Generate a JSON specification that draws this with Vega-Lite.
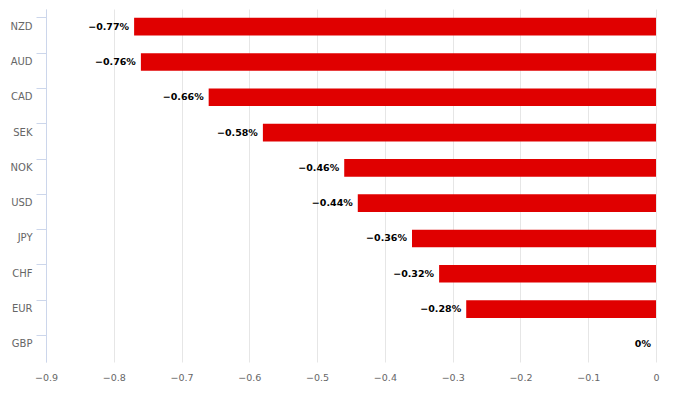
{
  "$schema": "https://vega.github.io/schema/vega-lite/v6.json",
  "width": 610,
  "height": 353,
  "autosize": {"type": "none"},
  "padding": {"left": 46, "top": 9, "right": 21, "bottom": 40},
  "background": "white",
  "config": {
    "view": {"stroke": null},
    "font": "DejaVu Sans"
  },
  "data": {
    "values": [
      {"currency": "NZD", "change": -0.77, "label": "−0.77%"},
      {"currency": "AUD", "change": -0.76, "label": "−0.76%"},
      {"currency": "CAD", "change": -0.66, "label": "−0.66%"},
      {"currency": "SEK", "change": -0.58, "label": "−0.58%"},
      {"currency": "NOK", "change": -0.46, "label": "−0.46%"},
      {"currency": "USD", "change": -0.44, "label": "−0.44%"},
      {"currency": "JPY", "change": -0.36, "label": "−0.36%"},
      {"currency": "CHF", "change": -0.32, "label": "−0.32%"},
      {"currency": "EUR", "change": -0.28, "label": "−0.28%"},
      {"currency": "GBP", "change": 0, "label": "0%"}
    ]
  },
  "encoding": {
    "y": {
      "field": "currency",
      "type": "nominal",
      "sort": null,
      "scale": {"paddingInner": 0.5, "paddingOuter": 0.25},
      "axis": {
        "title": null,
        "domainColor": "#ccd6eb",
        "tickColor": "#ccd6eb",
        "tickSize": 10,
        "bandPosition": 0,
        "labelColor": "#666666",
        "labelFontSize": 10,
        "labelPadding": 4,
        "labelFont": "DejaVu Sans"
      }
    },
    "x": {
      "field": "change",
      "type": "quantitative",
      "scale": {"domain": [-0.9, 0], "nice": false, "zero": false},
      "axis": {
        "title": null,
        "values": [-0.9, -0.8, -0.7, -0.6, -0.5, -0.4, -0.3, -0.2, -0.1, 0],
        "format": "~g",
        "grid": true,
        "gridColor": "#e6e6e6",
        "domain": false,
        "ticks": false,
        "labelFlush": false,
        "labelColor": "#666666",
        "labelFontSize": 9.5,
        "labelPadding": 10,
        "labelFont": "DejaVu Sans"
      }
    }
  },
  "layer": [
    {
      "mark": {"type": "bar", "color": "#e00000"}
    },
    {
      "mark": {"type": "text", "align": "right", "baseline": "middle", "dx": -5, "fontWeight": "bold", "fontSize": 9.5, "color": "#000000"},
      "encoding": {"text": {"field": "label"}}
    }
  ]
}
